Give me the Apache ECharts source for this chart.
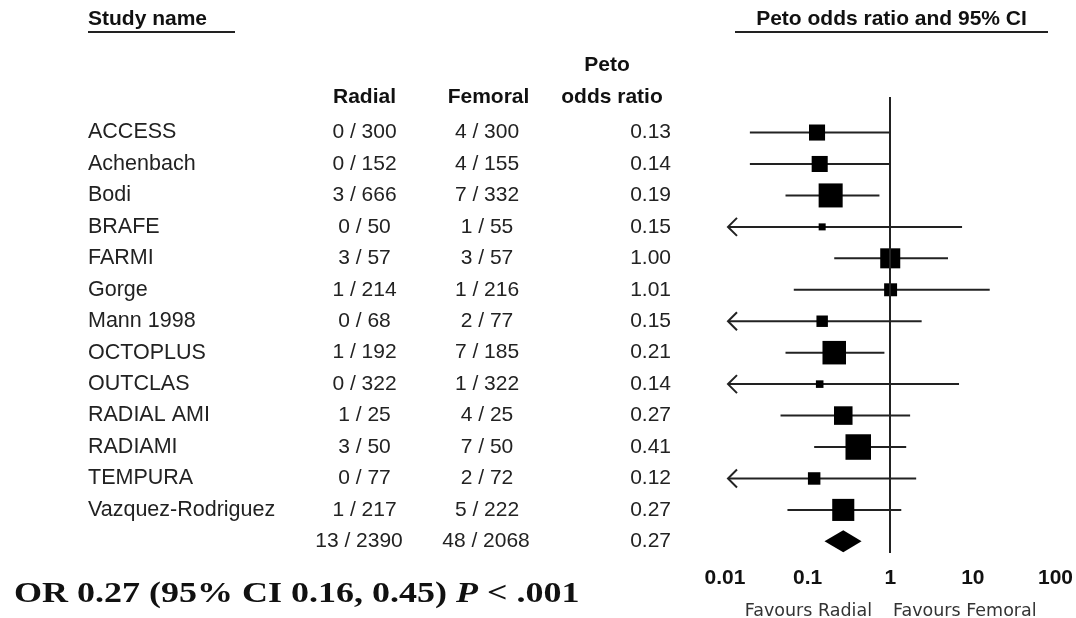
<!DOCTYPE html>
<html>
<head>
<meta charset="utf-8">
<script src="https://cdn.jsdelivr.net/npm/echarts@6/dist/echarts.min.js"></script>
<style>html,body{margin:0;padding:0;background:#fff;}#c{width:1076px;height:618px;}</style>
</head>
<body>
<div id="c"></div>
<script>
// ---- data ----
const studies = ['ACCESS','Achenbach','Bodi','BRAFE','FARMI','Gorge','Mann 1998','OCTOPLUS','OUTCLAS','RADIAL AMI','RADIAMI','TEMPURA','Vazquez-Rodriguez'];
const radialEvents  = [0,0,3,0,3,1,0,1,0,1,3,0,1];
const radialTotals  = [300,152,666,50,57,214,68,192,322,25,50,77,217];
const femoralEvents = [4,4,7,1,3,1,2,7,1,4,7,2,5];
const femoralTotals = [300,155,332,55,57,216,77,185,322,25,50,72,222];
const oddsRatios = [0.13,0.14,0.19,0.15,1.00,1.01,0.15,0.21,0.14,0.27,0.41,0.12,0.27];
const ciLower    = [0.020,0.020,0.054,0.003,0.21,0.068,0.0094,0.054,0.0029,0.047,0.12,0.007,0.057];
const ciUpper    = [0.99,0.99,0.74,7.4,5.0,16,2.4,0.85,6.8,1.74,1.56,2.06,1.36];
const weights    = [6.3,6.3,14.1,1.2,9.8,4.1,3.2,13.5,1.4,8.4,15.9,3.8,11.9]; // relative weight (%)
const pooledOR = 0.27, pooledLower = 0.16, pooledUpper = 0.45;
const totalRadial = '13 / 2390', totalFemoral = '48 / 2068';
const tickLabels = ['0.01','0.1','1','10','100'];

// ---- layout constants ----
const W = 1076, H = 618;
const GRID_TOP = 97, GRID_BOTTOM = 65;
const YMIN = -1.13, YMAX = 13.37;
const XMIN = 0.01, XMAX = 100;
const SANS = "'Liberation Sans', Arial, sans-serif";
const nRows = studies.length;

const chart = echarts.init(document.getElementById('c'), null, {renderer:'canvas'});

function txt(x, y, text, font, fill, align, valign) {
  return {type:'text', x:x, y:y, style:{text:text, font:font, fill:fill,
    align:align, textAlign:align, verticalAlign:valign, textVerticalAlign:valign}};
}

const forestData = studies.map((s,i) => [i, oddsRatios[i], ciLower[i], ciUpper[i], weights[i]]);
const tableData = studies.map((s,i) => [i]).concat([[nRows]]);

function renderForest(params, api) {
  const i = api.value(0), or = api.value(1), lo = api.value(2), hi = api.value(3), w = api.value(4);
  const c = api.coord([or, i]);
  const pl = api.coord([Math.max(lo, XMIN), i]);
  const ph = api.coord([Math.min(hi, XMAX), i]);
  const y = c[1];
  const children = [];
  let x0 = pl[0];
  if (lo < XMIN) x0 = pl[0] + 3;
  children.push({type:'line', shape:{x1:x0, y1:y, x2:ph[0], y2:y}, style:{stroke:'#222', lineWidth:2}});
  if (lo < XMIN) {
    children.push({type:'polyline', shape:{points:[[x0+9, y-9],[x0, y],[x0+9, y+9]]}, style:{stroke:'#222', lineWidth:2, fill:null}});
  }
  const s = 6.4 * Math.sqrt(w);
  children.push({type:'rect', shape:{x:c[0]-s/2, y:y-s/2, width:s, height:s}, style:{fill:'#000'}});
  return {type:'group', children:children};
}

function renderDiamond(params, api) {
  const i = api.value(0);
  const c = api.coord([api.value(1), i]);
  const l = api.coord([api.value(2), i]);
  const r = api.coord([api.value(3), i]);
  const h = 11;
  return {type:'polygon', shape:{points:[[l[0], c[1]], [c[0], c[1]-h], [r[0], c[1]], [c[0], c[1]+h]]}, style:{fill:'#000'}};
}

function renderTable(params, api) {
  const i = api.value(0);
  const font = '21px ' + SANS;
  const nameFont = '21.5px ' + SANS;
  const col = '#222';
  const children = [];
  const y = api.coord([0, i])[1];
  const X = v => api.coord([v, i])[0];
  if (i < nRows) {
    children.push(txt(X(88), y, studies[i], nameFont, col, 'left', 'middle'));
    children.push(txt(X(364.5), y, radialEvents[i] + ' / ' + radialTotals[i], font, col, 'center', 'middle'));
    children.push(txt(X(487), y, femoralEvents[i] + ' / ' + femoralTotals[i], font, col, 'center', 'middle'));
    children.push(txt(X(671), y, oddsRatios[i].toFixed(2), font, col, 'right', 'middle'));
  } else {
    children.push(txt(X(359), y, totalRadial, font, col, 'center', 'middle'));
    children.push(txt(X(486), y, totalFemoral, font, col, 'center', 'middle'));
    children.push(txt(X(671), y, pooledOR.toFixed(2), font, col, 'right', 'middle'));
  }
  return {type:'group', children:children};
}

const boldH = 'bold 21px ' + SANS;

const option = {
  backgroundColor:'#fff',
  animation:false,
  grid:[
    {left:725, right:W-1058, top:GRID_TOP, bottom:GRID_BOTTOM},
    {left:0, right:0, top:GRID_TOP, bottom:GRID_BOTTOM}
  ],
  xAxis:[
    {type:'log', logBase:10, min:XMIN, max:XMAX, gridIndex:0,
     axisLine:{show:false}, axisTick:{show:false}, splitLine:{show:false},
     axisLabel:{show:true, margin:15, color:'#111', fontFamily:SANS, fontWeight:'bold', fontSize:21,
       formatter: v => { const k = Math.round(Math.log10(v)) + 2; return tickLabels[k] !== undefined ? tickLabels[k] : ''; }}},
    {type:'value', min:0, max:W, gridIndex:1, show:false}
  ],
  yAxis:[
    {type:'value', inverse:true, min:YMIN, max:YMAX, gridIndex:0, show:false},
    {type:'value', inverse:true, min:YMIN, max:YMAX, gridIndex:1, show:false}
  ],
  series:[
    {type:'custom', xAxisIndex:0, yAxisIndex:0, renderItem:renderForest, data:forestData,
     encode:{x:[1,2,3], y:0}, clip:false,
     markLine:{silent:true, symbol:'none', label:{show:false},
       lineStyle:{color:'#222', width:2, type:'solid'}, data:[{xAxis:1}]}},
    {type:'custom', xAxisIndex:0, yAxisIndex:0, renderItem:renderDiamond,
     data:[[nRows, pooledOR, pooledLower, pooledUpper]], encode:{x:[1,2,3], y:0}},
    {type:'custom', xAxisIndex:1, yAxisIndex:1, renderItem:renderTable, data:tableData, encode:{x:-1, y:0}}
  ],
  graphic:[
    txt(88, 19, 'Study name', boldH, '#111', 'left', 'middle'),
    {type:'rect', shape:{x:88, y:31, width:147, height:2}, style:{fill:'#222'}},
    txt(891.5, 19, 'Peto odds ratio and 95% CI', boldH, '#111', 'center', 'middle'),
    {type:'rect', shape:{x:735, y:31, width:313, height:2}, style:{fill:'#222'}},
    txt(364.5, 97.5, 'Radial', boldH, '#111', 'center', 'middle'),
    txt(488.5, 97.5, 'Femoral', boldH, '#111', 'center', 'middle'),
    txt(607, 65.5, 'Peto', boldH, '#111', 'center', 'middle'),
    txt(612, 97.5, 'odds ratio', boldH, '#111', 'center', 'middle'),
    txt(872, 611, 'Favours Radial', "17.5px 'DejaVu Sans', sans-serif", '#333', 'right', 'middle'),
    txt(893, 611, 'Favours Femoral', "17.5px 'DejaVu Sans', sans-serif", '#333', 'left', 'middle'),
    {type:'text', x:14, y:594, scaleX:1.2, scaleY:1,
     style:{rich:{n:{font:"bold 30px 'Liberation Serif', 'Times New Roman', serif", fill:'#111'},
                  i:{font:"italic bold 30px 'Liberation Serif', 'Times New Roman', serif", fill:'#111'}},
            text:'{n|OR 0.27 (95% CI 0.16, 0.45) }{i|P}{n| < .001}',
            align:'left', textAlign:'left', verticalAlign:'middle', textVerticalAlign:'middle'}}
  ]
};
chart.setOption(option);
</script>
</body>
</html>
